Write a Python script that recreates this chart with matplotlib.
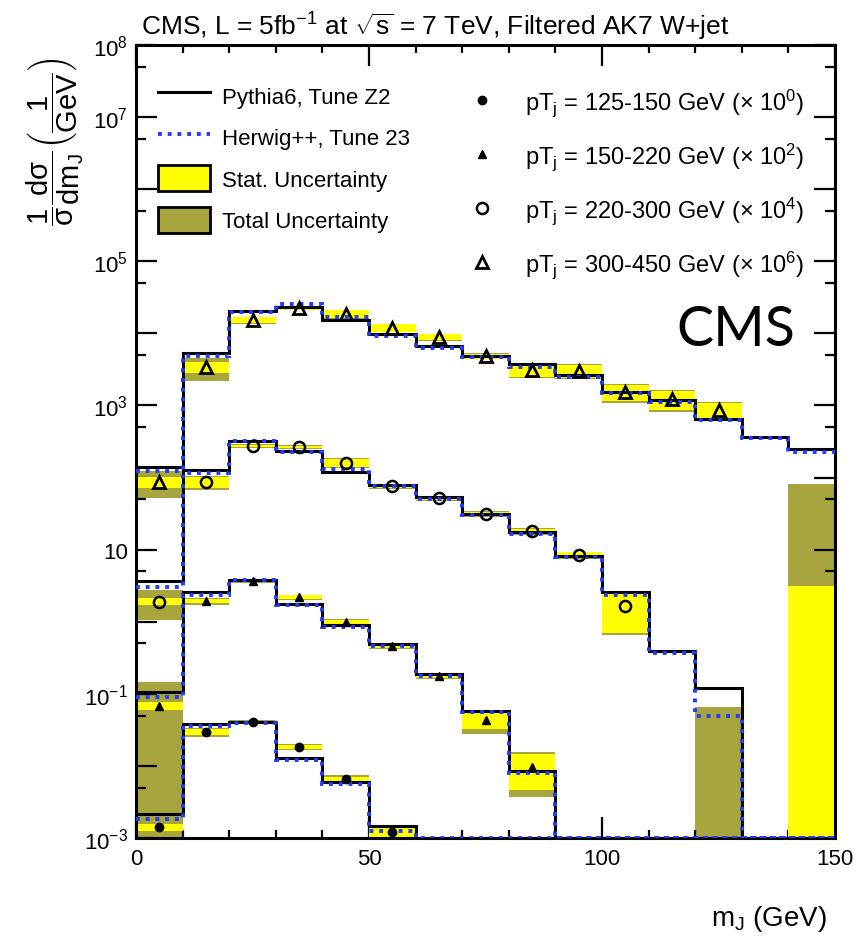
import numpy as np
import matplotlib
matplotlib.use('Agg')
import matplotlib.pyplot as plt
from matplotlib.lines import Line2D
from matplotlib.patches import Patch
from matplotlib.ticker import LogLocator, MultipleLocator, FuncFormatter, NullFormatter

plt.rcParams['font.family'] = ['Liberation Sans', 'DejaVu Sans']
plt.rcParams['mathtext.fontset'] = 'custom'
plt.rcParams['mathtext.rm'] = 'Liberation Sans'
plt.rcParams['mathtext.it'] = 'Liberation Sans:italic'
plt.rcParams['mathtext.bf'] = 'Liberation Sans:bold'
plt.rcParams['mathtext.default'] = 'regular'

nan = np.nan

# ---- data (normalised 1/sigma dsigma/dm, per GeV), bins of 10 GeV ----
edges = np.arange(0, 151, 10)

# pT 125-150 GeV (x 10^0)
py_125 = [2.15e-3, 0.0381, 0.0406, 0.0129, 5.98e-3, 1.47e-3, 0, 0, 0, 0, 0, 0, 0, 0, 0]
hw_125 = [1.84e-3, 0.0358, 0.0394, 0.0121, 5.61e-3, 1.25e-3, 0, 0, 0, 0, 0, 0, 0, 0, 0]
dat_125 = [1.42e-3, 0.0295, 0.0406, 0.0183, 6.58e-3, 1.21e-3, nan, nan, nan, nan, nan, nan, nan, nan, nan]
stat_125 = [1.6e-4, 3.0e-3, 2.0e-3, 1.2e-3, 5.0e-4, 1.8e-4, nan, nan, nan, nan, nan, nan, nan, nan, nan]
tot_125 = [0.145, 4.5e-3, 3.0e-3, 1.8e-3, 8.0e-4, 3.0e-4, nan, nan, nan, nan, nan, nan, nan, nan, nan]

# pT 150-220 GeV (x 10^2)
py_150 = [1.06e-3, 0.0258, 0.0379, 0.0176, 9.0e-3, 4.91e-3, 1.88e-3, 5.78e-4, 8.5e-5, 0, 0, 0, 0, 0, 0]
hw_150 = [9.0e-4, 0.0235, 0.0379, 0.0171, 8.45e-3, 4.6e-3, 1.77e-3, 5.6e-4, 8.0e-5, 0, 0, 0, 0, 0, 0]
dat_150 = [6.8e-4, 0.0194, 0.0367, 0.0220, 0.0100, 4.6e-3, 1.77e-3, 4.3e-4, 9.7e-5, nan, nan, nan, nan, nan, nan]
stat_150 = [9.0e-5, 1.5e-3, 1.5e-3, 1.2e-3, 6.0e-4, 3.0e-4, 1.2e-4, 1.1e-4, 5.0e-5, nan, nan, nan, nan, nan, nan]
tot_150 = [3.0e-4, 2.2e-3, 2.2e-3, 1.8e-3, 9.0e-4, 4.0e-4, 1.6e-4, 1.5e-4, 6.0e-5, nan, nan, nan, nan, nan, nan]

# pT 220-300 GeV (x 10^4)
py_220 = [3.67e-4, 0.0127, 0.0321, 0.0233, 0.0119, 7.88e-3, 5.37e-3, 3.12e-3, 1.76e-3, 8.2e-4, 2.6e-4, 3.9e-5, 1.2e-5, 0, 0]
hw_220 = [3.03e-4, 0.01156, 0.0321, 0.0226, 0.01315, 7.64e-3, 5.04e-3, 3.03e-3, 1.65e-3, 7.9e-4, 2.35e-4, 3.68e-5, 4.9e-6, 0, 0]
dat_220 = [1.9e-4, 8.67e-3, 0.0274, 0.0265, 0.0159, 7.64e-3, 5.2e-3, 3.12e-3, 1.81e-3, 8.4e-4, 1.65e-4, nan, 0, nan, nan]
stat_220 = [2.0e-5, 1.5e-3, 1.2e-3, 1.0e-3, 2.0e-3, 4.0e-4, 3.0e-4, 2.0e-4, 1.5e-4, 8.0e-5, 9.5e-5, nan, 0, nan, nan]
tot_220 = [8.5e-5, 2.0e-3, 1.8e-3, 1.5e-3, 2.5e-3, 6.0e-4, 4.0e-4, 3.0e-4, 2.0e-4, 1.0e-4, 1.0e-4, nan, 6.6e-6, nan, nan]

# pT 300-450 GeV (x 10^6)
py_300 = [1.4e-4, 5.3e-3, 0.0204, 0.0232, 0.0153, 9.8e-3, 6.68e-3, 4.85e-3, 3.76e-3, 2.65e-3, 1.54e-3, 1.19e-3, 6.5e-4, 3.65e-4, 2.5e-4]
hw_300 = [1.23e-4, 4.85e-3, 0.0198, 0.0255, 0.01687, 9.2e-3, 6.27e-3, 4.7e-3, 3.41e-3, 2.48e-3, 1.49e-3, 1.12e-3, 6.3e-4, 3.54e-4, 2.26e-4]
dat_300 = [8.7e-5, 3.4e-3, 0.0153, 0.0225, 0.0186, 0.0119, 8.9e-3, 4.85e-3, 3.1e-3, 3.0e-3, 1.54e-3, 1.23e-3, 8.65e-4, nan, 0]
stat_300 = [1.6e-5, 5.8e-4, 1.5e-3, 1.3e-3, 2.4e-3, 1.4e-3, 9.0e-4, 4.0e-4, 6.0e-4, 6.0e-4, 4.0e-4, 3.7e-4, 2.2e-4, nan, 3.1e-6]
tot_300 = [3.5e-5, 1.2e-3, 1.8e-3, 1.5e-3, 2.8e-3, 1.6e-3, 1.05e-3, 5.0e-4, 7.0e-4, 7.0e-4, 4.5e-4, 4.2e-4, 2.5e-4, nan, 8.1e-5]

labels = [r'pT$_{j}$ = 125-150 GeV ($\times$ 10$^{0}$)',
          r'pT$_{j}$ = 150-220 GeV ($\times$ 10$^{2}$)',
          r'pT$_{j}$ = 220-300 GeV ($\times$ 10$^{4}$)',
          r'pT$_{j}$ = 300-450 GeV ($\times$ 10$^{6}$)']
scales = [1, 1e2, 1e4, 1e6]

series = [
    (py_125, hw_125, dat_125, stat_125, tot_125, dict(marker='o', ms=6, mfc='k', mec='k')),
    (py_150, hw_150, dat_150, stat_150, tot_150, dict(marker='^', ms=6, mfc='k', mec='k')),
    (py_220, hw_220, dat_220, stat_220, tot_220, dict(marker='o', ms=8, mfc='none', mec='k', mew=1.8)),
    (py_300, hw_300, dat_300, stat_300, tot_300, dict(marker='^', ms=9, mfc='none', mec='k', mew=2.0)),
]

YMIN, YMAX = 1e-3, 1e8
yellow = '#ffff00'
olive = '#a8a43e'
blue = '#1f3cff'

fig = plt.figure(figsize=(8.67, 9.37), dpi=100)
ax = fig.add_axes([136 / 867, 1 - 839 / 937, 699 / 867, 793 / 937])
ax.set_yscale('log')

left = edges[:-1]
for (py, hw, dat, st, tot, mk), sc in zip(series, scales):
    d = np.array(dat) * sc
    for err, col, z in [(np.array(tot) * sc, olive, 1), (np.array(st) * sc, yellow, 2)]:
        m = np.isfinite(d) & np.isfinite(err) & (err > 0)
        lo = np.clip(d[m] - err[m], 1e-5, None)
        hi = d[m] + err[m]
        ax.bar(left[m], hi - lo, bottom=lo, width=10, align='edge',
               color=col, linewidth=0, zorder=z)
    p = np.array(py) * sc
    h = np.array(hw) * sc
    ax.stairs(np.where(p > 0, p, YMIN), edges, baseline=None,
              color='k', lw=2.2, zorder=3)
    ax.stairs(np.where(h > 0, h, YMIN), edges, baseline=None,
              color=blue, lw=2.8, ls=(0, (1, 1.5)), zorder=4)
    centers = (edges[:-1] + edges[1:]) / 2
    m = np.isfinite(d) & (d > 0)
    ax.plot(centers[m], d[m], ls='none', zorder=5, **mk)

ax.set_xlim(0, 150)
ax.set_ylim(YMIN, YMAX)

ylab = {8: r'$10^{8}$', 7: r'$10^{7}$', 5: r'$10^{5}$', 3: r'$10^{3}$',
        1: '10', -1: r'$10^{-1}$', -3: r'$10^{-3}$'}
ax.yaxis.set_major_locator(LogLocator(base=10, numticks=30))
ax.yaxis.set_minor_locator(LogLocator(base=10, subs=[5.0], numticks=30))
ax.yaxis.set_major_formatter(FuncFormatter(lambda v, pos: ylab.get(int(round(np.log10(v))), '')))
ax.yaxis.set_minor_formatter(NullFormatter())
ax.xaxis.set_major_locator(MultipleLocator(50))
ax.xaxis.set_minor_locator(MultipleLocator(10))

ax.tick_params(which='both', direction='in', top=True, right=True, width=1.6)
ax.tick_params(axis='y', which='major', length=15, labelsize=16, pad=6)
ax.tick_params(axis='y', which='minor', length=7)
ax.tick_params(axis='x', which='major', length=15, labelsize=16, pad=7)
ax.tick_params(axis='x', which='minor', length=6)
for s in ax.spines.values():
    s.set_linewidth(2.2)

# legends
h_left = [Line2D([], [], color='k', lw=2.2),
          Line2D([], [], color=blue, lw=2.8, ls=(0, (1, 1.5))),
          Patch(facecolor=yellow, edgecolor='k', lw=2),
          Patch(facecolor=olive, edgecolor='k', lw=2)]
leg1 = ax.legend(h_left, ['Pythia6, Tune Z2', 'Herwig++, Tune 23',
                          'Stat. Uncertainty', 'Total Uncertainty'],
                 loc='upper left', bbox_to_anchor=(158 / 867, 1 - 83 / 937),
                 bbox_transform=fig.transFigure, frameon=False, fontsize=16,
                 handlelength=2.35, handleheight=1.45, handletextpad=0.55,
                 labelspacing=0.68, borderpad=0, borderaxespad=0)
ax.add_artist(leg1)

h_right = [Line2D([], [], ls='none', **mk) for *_, mk in series]
ax.legend(h_right, labels, loc='upper left', bbox_to_anchor=(465 / 867, 1 - 87 / 937),
          bbox_transform=fig.transFigure, frameon=False, fontsize=17,
          handlelength=1.4, handletextpad=1.15, labelspacing=0.95,
          borderpad=0, borderaxespad=0)

fig.text(141 / 867, 1 - 36 / 937,
         r'CMS, L = 5fb$^{-1}$ at $\sqrt{s}$ = 7 TeV, Filtered AK7 W+jet',
         ha='left', va='baseline', fontsize=19)
fig.text(55 / 867, 1 - 142 / 937,
         r'$\dfrac{1}{\sigma}\dfrac{d\sigma}{dm_{J}}\left(\dfrac{1}{GeV}\right)$',
         rotation=90, ha='center', va='center', fontsize=21)
fig.text(827 / 867, 1 - 926 / 937, r'm$_{J}$ (GeV)', ha='right', va='baseline', fontsize=20)
fig.text(795 / 867, 1 - 346 / 937, 'CMS', ha='right', va='baseline', fontsize=40,
         family=['Lato', 'DejaVu Sans'])

fig.savefig('out.png', dpi=100)
